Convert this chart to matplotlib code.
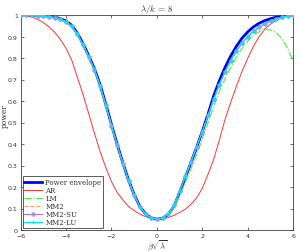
import numpy as np
import matplotlib
matplotlib.use("Agg")
import matplotlib.pyplot as plt

plt.rcParams['mathtext.fontset'] = 'cm'

x = np.linspace(-6, 6, 49)

envelope = [1.0, 1.0, 0.999, 0.998, 0.997, 0.994, 0.99, 0.983, 0.972, 0.952, 0.915, 0.866,
            0.81, 0.75, 0.675, 0.585, 0.49, 0.398, 0.312, 0.232, 0.164, 0.109, 0.075, 0.056,
            0.05,
            0.055, 0.073, 0.11, 0.175, 0.245, 0.315, 0.385, 0.46, 0.54, 0.625, 0.695, 0.757,
            0.81, 0.855, 0.893, 0.922, 0.945, 0.962, 0.974, 0.983, 0.99, 0.995, 0.998, 1.0]

ar = [1.0, 0.997, 0.99, 0.98, 0.965, 0.945, 0.92, 0.887, 0.845, 0.79, 0.71, 0.63,
      0.54, 0.45, 0.365, 0.29, 0.225, 0.175, 0.14, 0.11, 0.09, 0.074, 0.062, 0.054,
      0.05,
      0.052, 0.058, 0.068, 0.082, 0.097, 0.12, 0.15, 0.195, 0.26, 0.33, 0.42, 0.516,
      0.595, 0.67, 0.74, 0.80, 0.855, 0.90, 0.935, 0.958, 0.975, 0.987, 0.995, 1.0]

lm = [1.0, 0.999, 0.998, 0.995, 0.993, 0.99, 0.985, 0.977, 0.965, 0.944, 0.905, 0.856,
      0.80, 0.74, 0.665, 0.575, 0.48, 0.39, 0.305, 0.228, 0.16, 0.107, 0.073, 0.056,
      0.05,
      0.054, 0.07, 0.103, 0.16, 0.222, 0.285, 0.352, 0.425, 0.50, 0.575, 0.645, 0.705,
      0.758, 0.805, 0.846, 0.88, 0.905, 0.922, 0.932, 0.931, 0.918, 0.89, 0.845, 0.787]

mm2 = [1.0, 1.0, 0.999, 0.998, 0.996, 0.993, 0.988, 0.981, 0.969, 0.948, 0.911, 0.862,
       0.806, 0.746, 0.671, 0.581, 0.487, 0.396, 0.31, 0.231, 0.163, 0.108, 0.074, 0.056,
       0.05,
       0.056, 0.075, 0.113, 0.178, 0.247, 0.316, 0.385, 0.457, 0.532, 0.61, 0.678, 0.738,
       0.79, 0.833, 0.87, 0.90, 0.925, 0.945, 0.96, 0.972, 0.982, 0.99, 0.996, 1.0]

mm2_su = [1.0, 1.0, 0.999, 0.997, 0.995, 0.992, 0.987, 0.98, 0.968, 0.947, 0.91, 0.861,
          0.805, 0.745, 0.67, 0.58, 0.486, 0.395, 0.309, 0.23, 0.162, 0.108, 0.074, 0.056,
          0.05,
          0.056, 0.076, 0.114, 0.18, 0.249, 0.318, 0.386, 0.458, 0.533, 0.608, 0.676, 0.736,
          0.788, 0.832, 0.869, 0.899, 0.924, 0.944, 0.959, 0.971, 0.981, 0.989, 0.995, 1.0]

mm2_lu = [1.0, 1.0, 0.999, 0.998, 0.996, 0.993, 0.989, 0.982, 0.97, 0.949, 0.912, 0.863,
          0.807, 0.747, 0.672, 0.582, 0.488, 0.397, 0.311, 0.232, 0.164, 0.109, 0.075, 0.057,
          0.05,
          0.057, 0.077, 0.115, 0.181, 0.25, 0.32, 0.388, 0.46, 0.535, 0.611, 0.679, 0.739,
          0.791, 0.834, 0.871, 0.901, 0.926, 0.946, 0.961, 0.973, 0.983, 0.99, 0.996, 1.0]

labels = ['Power envelope', 'AR', 'LM', 'MM2', 'MM2-SU', 'MM2-LU']
xticks = [-6, -4, -2, 0, 2, 4, 6]
yticks = [0, 0.1, 0.2, 0.3, 0.4, 0.5, 0.6, 0.7, 0.8, 0.9, 1]
yticklabels = ['0', '0.1', '0.2', '0.3', '0.4', '0.5', '0.6', '0.7', '0.8', '0.9', '1']

fig = plt.figure(figsize=(3.0, 2.53), dpi=100)
ax = fig.add_axes([20.6/300, 1-231/253, 272.7/300, 215/253])

ax.plot(x, envelope, color='#0000ff', lw=2.0, label=labels[0], zorder=2)
ax.plot(x, ar, color='#ff3333', lw=0.7, label=labels[1], zorder=3)
ax.plot(x, lm, color='#44ee44', lw=0.8, ls='-.', label=labels[2], zorder=3)
ax.plot(x, mm2, color='#f0a070', lw=0.8, ls='--', label=labels[3], zorder=3)
ax.plot(x, mm2_su, color='#a070d0', lw=0.7, marker='o', ms=2.2, mec='#b090e0',
        mfc='#b090e0', label=labels[4], zorder=4)
ax.plot(x, mm2_lu, color='#00e5ff', lw=0.8, marker='+', ms=3.5, mew=0.8,
        label=labels[5], zorder=5)

ax.set_xlim(-6, 6)
ax.set_ylim(0, 1)
ax.set_xticks(xticks)
ax.set_xticklabels([str(t) if t >= 0 else '\u2212' + str(-t) for t in xticks])
ax.set_yticks(yticks)
ax.set_yticklabels(yticklabels)
ax.tick_params(direction='in', length=2.5, width=0.5, top=True, right=True,
               labelsize=4.5, pad=2, colors='#333333')
for s in ax.spines.values():
    s.set_linewidth(0.6)
    s.set_color('#404040')

ax.set_title(r'$\lambda/k\,=\,8$', fontsize=6.5, pad=3, color='#333333')
fig.text(157/300, 1-246/253, r'$\beta\sqrt{\lambda}$', fontsize=6, color='#333333',
         ha='center', va='center')
fig.text(4.5/300, 1-116/253, 'power', fontsize=5.5, family='DejaVu Serif', color='#333333',
         rotation=90, ha='center', va='center')

leg = ax.legend(loc='lower left', prop={'family': 'DejaVu Serif', 'size': 5},
                labelspacing=0.0, handlelength=2.6, handletextpad=0.4,
                borderpad=0.25, borderaxespad=0.3, fancybox=False, framealpha=1,
                edgecolor='#404040')
leg.get_frame().set_linewidth(0.6)
for t in leg.get_texts():
    t.set_color('#333333')

fig.savefig('out.png', dpi=100)
